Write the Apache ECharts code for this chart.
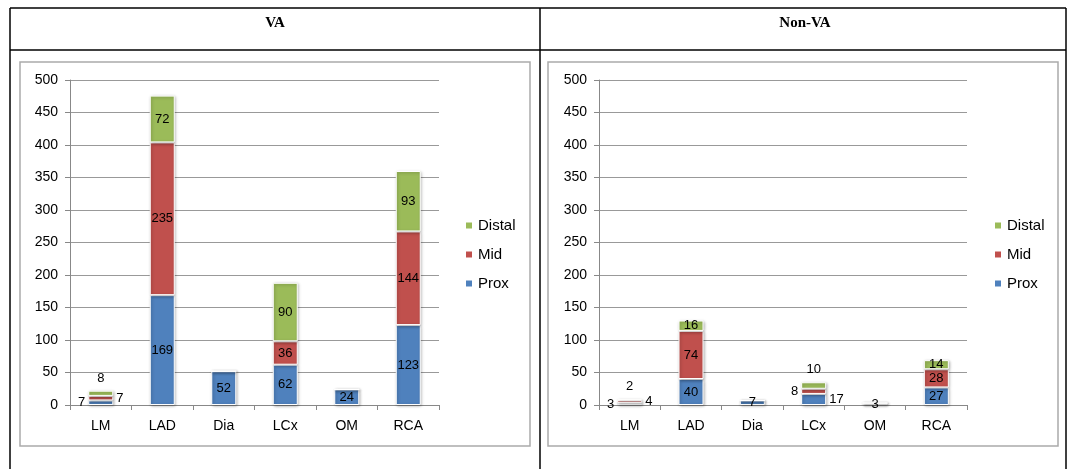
<!DOCTYPE html>
<html>
<head>
<meta charset="utf-8">
<script src="https://cdn.jsdelivr.net/npm/echarts@6/dist/echarts.min.js"></script>
<style>
  html, body { margin: 0; padding: 0; background: #fff; }
  #main { width: 1070px; height: 469px; }
</style>
</head>
<body>
<div id="main"></div>
<script>
// 数据
var categories = ['LM', 'LAD', 'Dia', 'LCx', 'OM', 'RCA'];
var yTicks = [0, 500, 50];

var vaProx   = [7, 169, 52, 62, 24, 123];
var vaMid    = [7, 235, 0, 36, 0, 144];
var vaDistal = [8, 72, 0, 90, 0, 93];

var nvProx   = [3, 40, 7, 17, 3, 27];
var nvMid    = [4, 74, 0, 8, 0, 28];
var nvDistal = [2, 16, 0, 10, 0, 14];

var colors = { Prox: '#4F81BD', Mid: '#C0504D', Distal: '#9BBB59' };

// label positions that differ from default (index -> position)
var labelPos = {
    va:  { Prox: { 0: 'left' }, Mid: { 0: 'right' }, Distal: { 0: 'top' } },
    nv:  { Prox: { 0: 'left', 3: 'right' }, Mid: { 0: 'right', 3: 'left' }, Distal: { 0: 'top', 3: 'top' } }
};

function buildData(vals, pos) {
    return vals.map(function (v, i) {
        var item = { value: v };
        if (pos && pos[i]) {
            item.label = { position: pos[i], distance: pos[i] == 'top' ? 6 : 3 };
        }
        return item;
    });
}

function makeSeries(name, vals, idx, key) {
    return {
        name: name,
        type: 'bar',
        stack: 'total' + idx,
        xAxisIndex: idx,
        yAxisIndex: idx,
        barWidth: 25,
        data: buildData(vals, labelPos[key][name]),
        itemStyle: {
            color: colors[name],
            borderColor: '#fff',
            borderWidth: 1,
            shadowColor: 'rgba(0,0,0,0.3)',
            shadowBlur: 3,
            shadowOffsetX: 1,
            shadowOffsetY: 1
        },
        label: {
            show: true,
            position: 'inside',
            color: '#000',
            fontSize: 13,
            fontFamily: 'Liberation Sans, Arial',
            formatter: function (p) { return p.value ? p.value : ''; }
        }
    };
}

function xAxis(idx) {
    return {
        type: 'category',
        gridIndex: idx,
        data: categories,
        axisLine: { lineStyle: { color: '#888' } },
        axisTick: { show: true, length: 5, lineStyle: { color: '#888' } },
        axisLabel: { color: '#000', fontSize: 14, margin: 14, fontFamily: 'Liberation Sans, Arial' }
    };
}

function yAxis(idx) {
    return {
        type: 'value',
        gridIndex: idx,
        min: yTicks[0],
        max: yTicks[1],
        interval: yTicks[2],
        axisLine: { show: true, lineStyle: { color: '#888' } },
        axisTick: { show: true, length: 5, lineStyle: { color: '#888' } },
        splitLine: { lineStyle: { color: '#999' } },
        axisLabel: { color: '#000', fontSize: 14, margin: 12, fontFamily: 'Liberation Sans, Arial' }
    };
}

function legend(left) {
    return {
        orient: 'vertical',
        left: left,
        top: 213,
        itemGap: 14,
        icon: 'rect',
        itemWidth: 8,
        itemHeight: 8,
        data: ['Distal', 'Mid', 'Prox'],
        textStyle: { color: '#000', fontSize: 15, fontFamily: 'Liberation Sans, Arial' }
    };
}

function line(x1, y1, x2, y2) {
    return { type: 'line', shape: { x1: x1, y1: y1, x2: x2, y2: y2 }, style: { stroke: '#000', lineWidth: 1.5 } };
}

var myChart = echarts.init(document.getElementById('main'));
var option = {
    animation: false,
    grid: [
        { left: 70, top: 80, width: 369, height: 325 },
        { left: 599, top: 80, width: 368, height: 325 }
    ],
    legend: [legend(459), legend(988)],
    xAxis: [xAxis(0), xAxis(1)],
    yAxis: [yAxis(0), yAxis(1)],
    series: [
        makeSeries('Prox', vaProx, 0, 'va'),
        makeSeries('Mid', vaMid, 0, 'va'),
        makeSeries('Distal', vaDistal, 0, 'va'),
        makeSeries('Prox', nvProx, 1, 'nv'),
        makeSeries('Mid', nvMid, 1, 'nv'),
        makeSeries('Distal', nvDistal, 1, 'nv')
    ],
    graphic: [
        line(10, 8, 1066, 8),
        line(10, 50, 1066, 50),
        line(10, 8, 10, 469),
        line(540, 8, 540, 469),
        line(1066, 8, 1066, 469),
        { type: 'rect', shape: { x: 20, y: 62, width: 510, height: 384 }, style: { fill: 'none', stroke: '#aaa', lineWidth: 1.5 } },
        { type: 'rect', shape: { x: 548, y: 62, width: 510, height: 384 }, style: { fill: 'none', stroke: '#aaa', lineWidth: 1.5 } },
        { type: 'text', x: 275, y: 23, style: { text: 'VA', font: 'bold 15px "Liberation Serif", serif', fill: '#000', textAlign: 'center', textVerticalAlign: 'middle' } },
        { type: 'text', x: 805, y: 23, style: { text: 'Non-VA', font: 'bold 15px "Liberation Serif", serif', fill: '#000', textAlign: 'center', textVerticalAlign: 'middle' } }
    ]
};
myChart.setOption(option);
</script>
</body>
</html>
